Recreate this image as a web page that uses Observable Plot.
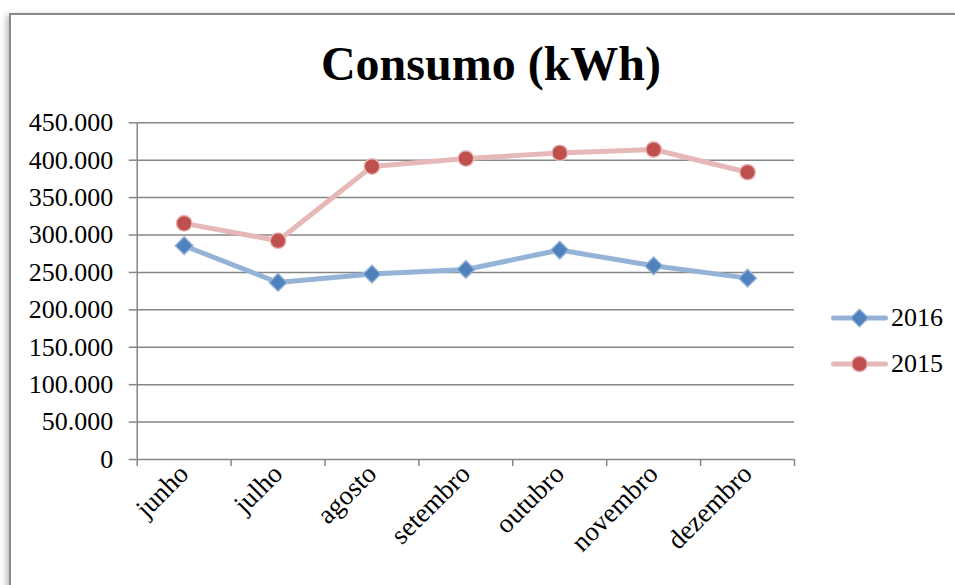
<!DOCTYPE html>
<html><head><meta charset="utf-8">
<script src="https://cdn.jsdelivr.net/npm/d3@7"></script>
<script src="https://cdn.jsdelivr.net/npm/@observablehq/plot@0.6"></script>
<style>
body{margin:0;background:#fff;}
#wrap{position:relative;width:955px;height:585px;overflow:hidden;font-family:"Liberation Serif","Times New Roman",serif;color:#000;}
#chart{position:absolute;left:0;top:0;}
#frame{position:absolute;left:9px;top:13px;width:1000px;height:640px;border:2px solid #8a8a8a;box-shadow:-3px 2px 6px rgba(0,0,0,0.25);pointer-events:none;}
#title{position:absolute;left:0;width:982px;top:40px;text-align:center;font-weight:bold;font-size:48px;line-height:48px;white-space:nowrap;}
#legend{position:absolute;left:831px;top:304px;}
.item{display:flex;align-items:center;height:28px;margin-bottom:17.7px;font-size:26px;}
.item svg{display:block;margin-right:3px;}
</style></head>
<body>
<div id="wrap">
  <div id="chart"></div>
  <div id="title">Consumo (kWh)</div>
  <div id="legend"></div>
  <div id="frame"></div>
</div>
<script>
// ---- data ----
const months = ["junho", "julho", "agosto", "setembro", "outubro", "novembro", "dezembro"];
const seriesNames = ["2016", "2015"];
const values2016 = [285700, 236600, 247800, 254000, 279900, 258900, 242400];
const values2015 = [315600, 292400, 391500, 402200, 409800, 414300, 383900];
const yTicks = [0, 50000, 100000, 150000, 200000, 250000, 300000, 350000, 400000, 450000];

// ---- styles ----
const styles = {
  "2016": {line: "#95B3D7", fill: "#4F81BD", stroke: "#95B3D7", symbol: "diamond2", r: 8},
  "2015": {line: "#E6B9B8", fill: "#C0504D", stroke: "#E6B9B8", symbol: "circle", r: 7.8}
};
const valuesBy = {"2016": values2016, "2015": values2015};

const data = seriesNames.flatMap(s => months.map((m, i) => ({series: s, month: m, i, value: valuesBy[s][i]})));
const boundaries = d3.range(months.length + 1).map(k => k - 0.5);

const locale = d3.formatLocale({decimal: ",", thousands: ".", grouping: [3], currency: ["", ""]});
const fmt = locale.format(",d");
const gridColor = "#868686";

const marks = [
  Plot.gridY(yTicks, {stroke: gridColor, strokeOpacity: 1, strokeWidth: 1.5}),
  Plot.ruleX([boundaries[0]], {stroke: gridColor, strokeWidth: 1.5}),
  Plot.axisY({ticks: yTicks, tickSize: 8, tickPadding: 16, tickFormat: fmt, stroke: gridColor, strokeWidth: 1.5, fontSize: 26, label: null}),
  Plot.axisX({ticks: boundaries, tickSize: 7, tickFormat: () => "", stroke: gridColor, strokeWidth: 1.5, label: null}),
  Plot.text(months, {x: (d, i) => i, text: d => d, frameAnchor: "bottom", rotate: -45, textAnchor: "end", lineAnchor: "bottom", dx: 6, dy: 16, fontSize: 27, fill: "#000"})
];
for (const s of seriesNames) {
  const st = styles[s];
  const sub = data.filter(d => d.series === s);
  marks.push(Plot.line(sub, {x: "i", y: "value", stroke: st.line, strokeWidth: 5, strokeLinecap: "round", strokeLinejoin: "round"}));
}
for (const s of seriesNames) {
  const st = styles[s];
  const sub = data.filter(d => d.series === s);
  marks.push(Plot.dot(sub, {x: "i", y: "value", symbol: st.symbol, r: st.r, fill: st.fill, stroke: st.stroke, strokeWidth: 1.4}));
}

const chart = Plot.plot({
  width: 955, height: 585,
  marginLeft: 136.7, marginRight: 161, marginTop: 122.3, marginBottom: 126,
  style: {background: "transparent", fontFamily: "Liberation Serif, Times New Roman, serif", fontSize: "26px", color: "#000"},
  x: {type: "linear", domain: [boundaries[0], boundaries[boundaries.length - 1]]},
  y: {domain: [0, 450000]},
  marks
});
document.getElementById("chart").append(chart);

// ---- legend ----
const legend = d3.select("#legend");
for (const s of seriesNames) {
  const st = styles[s];
  const item = legend.append("div").attr("class", "item");
  const svg = item.append("svg").attr("width", 57).attr("height", 28);
  svg.append("line").attr("x1", 2.5).attr("x2", 54.5).attr("y1", 14).attr("y2", 14)
    .attr("stroke", st.line).attr("stroke-width", 5).attr("stroke-linecap", "round");
  const sym = st.symbol === "circle" ? d3.symbolCircle : d3.symbolDiamond2;
  svg.append("path").attr("transform", "translate(28.5,14)")
    .attr("d", d3.symbol(sym, st.r * st.r * Math.PI)())
    .attr("fill", st.fill).attr("stroke", st.stroke).attr("stroke-width", 1.4);
  item.append("span").text(s);
}
</script>
</body></html>
